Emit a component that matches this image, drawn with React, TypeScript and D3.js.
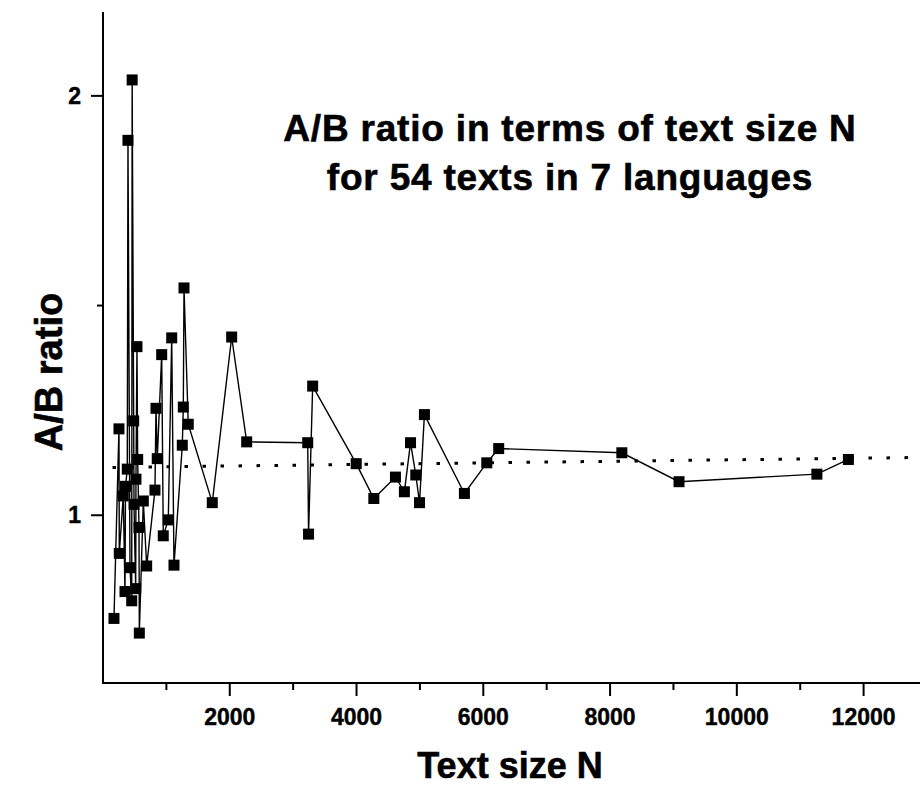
import React from "react";
import * as d3 from "d3";

// Text size N for each of the 54 texts (sorted by N)
const textSize: number[] = [
  173, 252, 257, 320, 347, 355, 383, 394, 426, 453, 460, 484, 489, 516, 520, 536, 547, 568,
  573, 636, 689, 820, 836, 856, 926, 951, 1030, 1084, 1120, 1251, 1267, 1278, 1345, 1724,
  2030, 2267, 3230, 3243, 3308, 3995, 4273, 4614, 4755, 4852, 4935, 4994, 5071, 5702, 6055,
  6243, 8186, 9088, 11263, 11760,
];
// A/B ratio for each text
const abRatio: number[] = [
  0.754, 1.206, 0.909, 1.046, 0.818, 1.069, 1.11, 1.894, 0.875, 0.796, 2.038, 1.225, 1.026,
  0.825, 1.086, 1.402, 1.133, 0.971, 0.719, 1.034, 0.879, 1.06, 1.255, 1.135, 1.383, 0.951,
  0.989, 1.423, 0.881, 1.167, 1.258, 1.542, 1.217, 1.03, 1.425, 1.175, 1.173, 0.955, 1.308,
  1.123, 1.04, 1.091, 1.056, 1.173, 1.096, 1.03, 1.24, 1.052, 1.125, 1.159, 1.149, 1.08,
  1.098, 1.133,
];
// dotted trend line
const trendN: number[] = [0, 13000];
const trendV: number[] = [1.114, 1.138];

const xMajorTicks: number[] = [2000, 4000, 6000, 8000, 10000, 12000];
const xMinorTicks: number[] = [1000, 3000, 5000, 7000, 9000, 11000];
const yMajorTicks: number[] = [1, 2];
const yMinorTicks: number[] = [1.5];

const titleLines: string[] = ["A/B ratio in terms of text size N", "for 54 texts in 7 languages"];
const xTitle = "Text size N";
const yTitle = "A/B ratio";

const W = 920;
const H = 785;
const left = 103;
const right = 920;
const top = 12;
const bottom = 683;

export default function App() {
  const x = d3.scaleLinear().domain([0, 12890]).range([left, right]);
  const y = d3.scaleLinear().domain([0.6, 2.2]).range([bottom, top]);
  const pts = textSize.map((n, i) => [n, abRatio[i]] as [number, number]);
  const line = d3
    .line<[number, number]>()
    .x((d) => x(d[0]))
    .y((d) => y(d[1]));
  const trend = trendN.map((n, i) => [n, trendV[i]] as [number, number]);
  const trendLine = d3
    .line<[number, number]>()
    .x((d) => x(Math.max(d[0], 150)))
    .y((d) => y(d[1]));
  const font = "'Liberation Sans', Arial, sans-serif";
  const sq = 11;
  return (
    <svg
      width={W}
      height={H}
      style={{ position: "absolute", left: 0, top: 0, background: "#fff" }}
      fontFamily={font}
    >
      <rect x={0} y={0} width={W} height={H} fill="#fff" />
      {/* trend */}
      <path
        d={trendLine(trend) || ""}
        fill="none"
        stroke="#000"
        strokeWidth={3}
        strokeDasharray="3.5 14.5"
      />
      {/* data line */}
      <path d={line(pts) || ""} fill="none" stroke="#000" strokeWidth={1.4} />
      {pts.map((d, i) => (
        <rect
          key={i}
          x={x(d[0]) - sq / 2}
          y={y(d[1]) - sq / 2}
          width={sq}
          height={sq}
          fill="#000"
        />
      ))}
      {/* axes */}
      <line x1={left} x2={left} y1={top} y2={bottom + 1} stroke="#000" strokeWidth={2} />
      <line x1={left - 1} x2={right} y1={bottom} y2={bottom} stroke="#000" strokeWidth={2} />
      {xMajorTicks.map((t) => (
        <g key={"xm" + t}>
          <line x1={x(t)} x2={x(t)} y1={bottom} y2={bottom + 13} stroke="#000" strokeWidth={2} />
          <text
            x={x(t)}
            y={bottom + 42}
            textAnchor="middle"
            fontWeight="bold"
            fontSize={23}
            stroke="#000"
            strokeWidth={0.4}
          >
            {t}
          </text>
        </g>
      ))}
      {xMinorTicks.map((t) => (
        <line key={"xn" + t} x1={x(t)} x2={x(t)} y1={bottom} y2={bottom + 7} stroke="#000" strokeWidth={2} />
      ))}
      {yMajorTicks.map((t) => (
        <g key={"ym" + t}>
          <line x1={left - 12} x2={left} y1={y(t)} y2={y(t)} stroke="#000" strokeWidth={2} />
          <text
            x={left - 22}
            y={y(t) + 8}
            textAnchor="end"
            fontWeight="bold"
            fontSize={23}
            stroke="#000"
            strokeWidth={0.4}
          >
            {t}
          </text>
        </g>
      ))}
      {yMinorTicks.map((t) => (
        <line key={"yn" + t} x1={left - 6} x2={left} y1={y(t)} y2={y(t)} stroke="#000" strokeWidth={2} />
      ))}
      {/* titles */}
      <text
        x={510}
        y={778}
        textAnchor="middle"
        fontWeight="bold"
        fontSize={36}
        stroke="#000"
        strokeWidth={0.6}
      >
        {xTitle}
      </text>
      <text
        transform={`translate(62,372) rotate(-90)`}
        textAnchor="middle"
        fontWeight="bold"
        fontSize={38}
        stroke="#000"
        strokeWidth={0.6}
      >
        {yTitle}
      </text>
      {titleLines.map((t, i) => (
        <text
          key={i}
          x={570}
          y={141 + i * 49}
          textAnchor="middle"
          fontWeight="bold"
          fontSize={37}
          letterSpacing={0.8}
          stroke="#000"
          strokeWidth={0.6}
        >
          {t}
        </text>
      ))}
    </svg>
  );
}
